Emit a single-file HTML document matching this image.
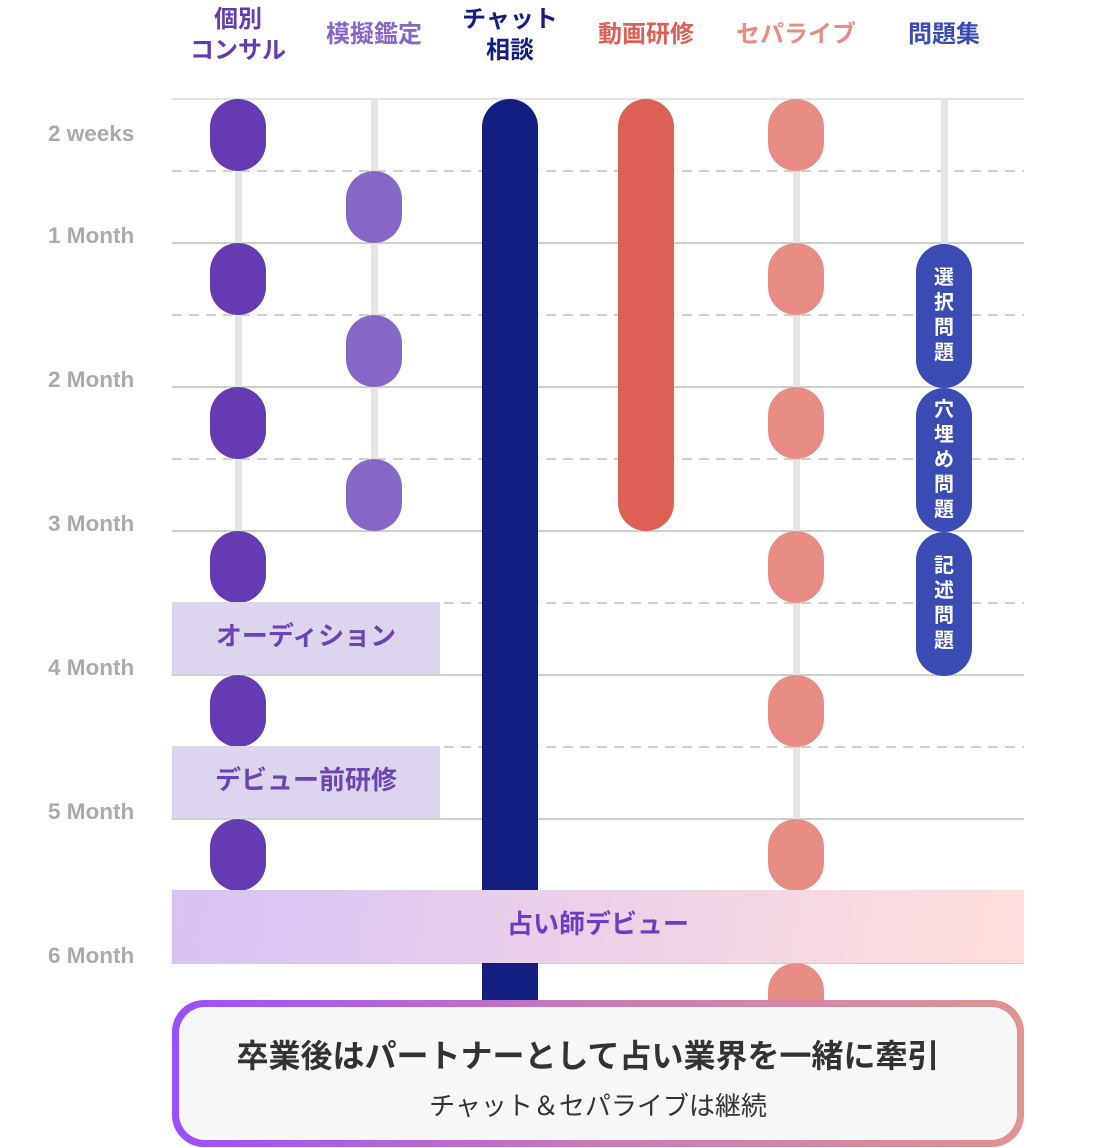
<!DOCTYPE html>
<html><head><meta charset="utf-8"><style>
*{margin:0;padding:0;box-sizing:border-box}
body{width:1100px;height:1148px;background:#fff;position:relative;overflow:hidden;font-family:"Liberation Sans","Noto Sans CJK JP",sans-serif}
.a{position:absolute}
.h{position:absolute;font-weight:bold;font-size:24px;line-height:31px;text-align:center;width:160px}
.l{position:absolute;left:48px;font-weight:bold;font-size:22.5px;color:#aaa;line-height:24px}
.p{position:absolute;width:56px;height:72px;border-radius:28px}
.t{position:absolute;width:7px;background:#e5e5e5}
.v{position:absolute;left:916px;width:56px;height:144px;border-radius:28px;background:#3a4bb3;color:#fff;font-weight:bold;font-size:20px;line-height:25px;text-align:center;display:flex;align-items:center;justify-content:center;flex-direction:column}
.ov{position:absolute;left:172px;width:268px;height:72px;background:#ddd5ee;color:#6a45b0;font-weight:bold;font-size:26px;display:flex;align-items:center;justify-content:center;padding-bottom:8px}
</style></head><body>
<div class="h" style="left:158px;top:4px;color:#653bb3">個別<br>コンサル</div>
<div class="h" style="left:294px;top:19px;color:#8767c6">模擬鑑定</div>
<div class="h" style="left:430px;top:4px;color:#131f80">チャット<br>相談</div>
<div class="h" style="left:566px;top:19px;color:#dd6055">動画研修</div>
<div class="h" style="left:716px;top:19px;color:#e88d83">セパライブ</div>
<div class="h" style="left:864px;top:19px;color:#3a4bb3">問題集</div>

<svg class="a" style="left:0;top:0" width="1100" height="1148">
<g stroke="#cfcfcf" stroke-width="2">
<line x1="172" y1="99" x2="1024" y2="99" stroke="#e3e3e3"/>
<line x1="172" y1="243" x2="1024" y2="243"/><line x1="172" y1="387" x2="1024" y2="387"/>
<line x1="172" y1="531" x2="1024" y2="531"/><line x1="172" y1="675" x2="1024" y2="675"/>
<line x1="172" y1="819" x2="1024" y2="819"/><line x1="172" y1="963" x2="1024" y2="963"/>
</g>
<g stroke="#cfcfcf" stroke-width="2" stroke-dasharray="10 7">
<line x1="172" y1="171" x2="1024" y2="171"/><line x1="172" y1="315" x2="1024" y2="315"/>
<line x1="172" y1="459" x2="1024" y2="459"/><line x1="172" y1="603" x2="1024" y2="603"/>
<line x1="172" y1="747" x2="1024" y2="747"/><line x1="172" y1="891" x2="1024" y2="891"/>
</g>
</svg>

<div class="l" style="top:122px">2 weeks</div>
<div class="l" style="top:224px">1 Month</div>
<div class="l" style="top:368px">2 Month</div>
<div class="l" style="top:512px">3 Month</div>
<div class="l" style="top:656px">4 Month</div>
<div class="l" style="top:800px">5 Month</div>
<div class="l" style="top:944px">6 Month</div>

<div class="t" style="left:235px;top:99px;height:792px"></div>
<div class="t" style="left:371px;top:99px;height:432px"></div>
<div class="t" style="left:793px;top:99px;height:905px"></div>
<div class="t" style="left:941px;top:99px;height:576px"></div>

<div class="p" style="left:210px;top:99px;background:#653bb3"></div>
<div class="p" style="left:210px;top:243px;background:#653bb3"></div>
<div class="p" style="left:210px;top:387px;background:#653bb3"></div>
<div class="p" style="left:210px;top:531px;background:#653bb3"></div>
<div class="p" style="left:210px;top:675px;background:#653bb3"></div>
<div class="p" style="left:210px;top:819px;background:#653bb3"></div>

<div class="p" style="left:346px;top:171px;background:#8767c6"></div>
<div class="p" style="left:346px;top:315px;background:#8767c6"></div>
<div class="p" style="left:346px;top:459px;background:#8767c6"></div>

<div class="a" style="left:482px;top:99px;width:56px;height:960px;border-radius:28px 28px 0 0;background:#131f80"></div>
<div class="a" style="left:618px;top:99px;width:56px;height:432px;border-radius:28px;background:#dd6055"></div>

<div class="p" style="left:768px;top:99px;background:#e88d83"></div>
<div class="p" style="left:768px;top:243px;background:#e88d83"></div>
<div class="p" style="left:768px;top:387px;background:#e88d83"></div>
<div class="p" style="left:768px;top:531px;background:#e88d83"></div>
<div class="p" style="left:768px;top:675px;background:#e88d83"></div>
<div class="p" style="left:768px;top:819px;background:#e88d83"></div>
<div class="p" style="left:768px;top:963px;background:#e88d83"></div>

<div class="v" style="top:244px">選<br>択<br>問<br>題</div>
<div class="v" style="top:388px">穴<br>埋<br>め<br>問<br>題</div>
<div class="v" style="top:532px">記<br>述<br>問<br>題</div>

<div class="ov" style="top:602px">オーディション</div>
<div class="ov" style="top:746px">デビュー前研修</div>
<div class="a" style="left:172px;top:890px;width:852px;height:73px;background:linear-gradient(100deg,#d7c3f5,#ffdfdb);color:#6a3fbf;font-weight:bold;font-size:26px;display:flex;align-items:center;justify-content:center;padding-bottom:8px">占い師デビュー</div>

<div class="a" style="left:172px;top:1000px;width:852px;height:147px;border-radius:32px;background:linear-gradient(90deg,#9c4dff,#cc7bb8,#e09390);padding:7px">
<div style="width:100%;height:100%;border-radius:26px;background:#f8f8f8;text-align:center">
<div style="padding-top:29px;padding-right:20px;font-size:32px;font-weight:bold;color:#333;line-height:40px">卒業後はパートナーとして占い業界を一緒に牽引</div>
<div style="margin-top:14px;font-size:26px;color:#333;line-height:32px">チャット＆セパライブは継続</div>
</div></div>
</body></html>
